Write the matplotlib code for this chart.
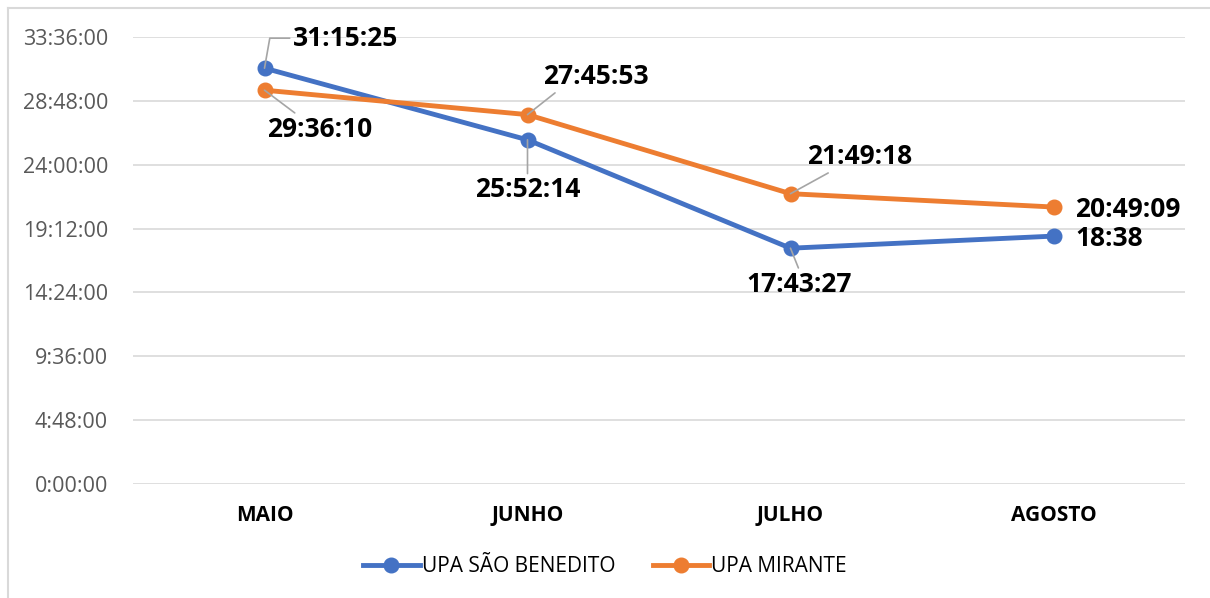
import matplotlib.pyplot as plt
from matplotlib.lines import Line2D
from matplotlib.ticker import FixedLocator

months = ['MAIO', 'JUNHO', 'JULHO', 'AGOSTO']
sao_benedito = ['31:15:25', '25:52:14', '17:43:27', '18:38']
mirante = ['29:36:10', '27:45:53', '21:49:18', '20:49:09']
y_ticks = ['0:00:00', '4:48:00', '9:36:00', '14:24:00', '19:12:00', '24:00:00', '28:48:00', '33:36:00']

def to_hours(s):
    parts = [int(p) for p in s.split(':')] + [0, 0]
    return parts[0] + parts[1] / 60 + parts[2] / 3600

blue = '#4472C4'
orange = '#ED7D31'
grid_c = '#D9D9D9'
plt.rcParams['font.family'] = ['Open Sans', 'DejaVu Sans']

fig = plt.figure(figsize=(12.1, 5.98), dpi=100)
ax = fig.add_axes([133 / 1210, 114 / 598, 1052 / 1210, 447 / 598])

x = list(range(len(months)))
yb = [to_hours(v) for v in sao_benedito]
yo = [to_hours(v) for v in mirante]
ax.plot(x, yb, color=blue, lw=3.5, marker='o', ms=10.5, solid_capstyle='round', zorder=3)
ax.plot(x, yo, color=orange, lw=3.5, marker='o', ms=10.5, solid_capstyle='round', zorder=3)

ax.set_xlim(-0.5, 3.5)
ax.set_ylim(0, 33.6)
yt = [to_hours(t) for t in y_ticks]
ax.yaxis.set_major_locator(FixedLocator(yt))
ax.set_yticklabels(y_ticks, fontsize=15.5, color='#595959')
ax.set_xticks(x)
ax.set_xticklabels(months, fontsize=15, fontweight='bold', color='black')
ax.tick_params(length=0)
ax.tick_params(axis='y', pad=18)
ax.tick_params(axis='x', pad=15)
for s in ax.spines.values():
    s.set_visible(False)
ax.grid(axis='y', color=grid_c, lw=1.2)
ax.set_axisbelow(True)

lead = dict(arrowstyle='-', color='#A5A5A5', lw=1.2, shrinkA=0, shrinkB=0)
lab = dict(fontsize=19, fontweight='bold', color='black', textcoords='offset pixels', va='center')

# (series values, labels, index, offset px, ha, leader)
ann = [
    (yb, sao_benedito, 0, (28, 30), 'left', dict(connectionstyle='angle,angleA=0,angleB=80,rad=0', relpos=(0, 0.5))),
    (yo, mirante, 0, (55, -39), 'center', dict(relpos=(0.3, 1.0))),
    (yo, mirante, 1, (68, 38), 'center', dict(relpos=(0.15, 0.0))),
    (yb, sao_benedito, 1, (0, -50), 'center', dict(relpos=(0.5, 1.0))),
    (yo, mirante, 2, (69, 37), 'center', dict(relpos=(0.25, 0.0))),
    (yb, sao_benedito, 2, (9, -36), 'center', dict(relpos=(0.5, 1.0))),
    (yo, mirante, 3, (22, -2), 'left', None),
    (yb, sao_benedito, 3, (22, -2), 'left', None),
]
for ys, labels, i, off, ha, ap in ann:
    kw = dict(lab)
    if ap is not None:
        a = dict(lead)
        a.update(ap)
        kw['arrowprops'] = a
    ax.annotate(labels[i], (x[i], ys[i]), xytext=off, ha=ha, **kw)

handles = [Line2D([], [], color=blue, lw=3.5, marker='o', ms=10.5),
           Line2D([], [], color=orange, lw=3.5, marker='o', ms=10.5)]
fig.legend(handles, ['UPA SÃO BENEDITO', 'UPA MIRANTE'], loc='center',
           bbox_to_anchor=(0.5, 31 / 598), ncol=2, frameon=False, fontsize=15,
           handlelength=2.7, handletextpad=0.1, columnspacing=1.8)

fig.add_artist(Line2D([8 / 1210, 8 / 1210], [0, 590 / 598], color=grid_c, lw=1.5))
fig.add_artist(Line2D([8 / 1210, 1], [590 / 598, 590 / 598], color=grid_c, lw=1.5))

fig.savefig('out.png', dpi=100, facecolor='white')
